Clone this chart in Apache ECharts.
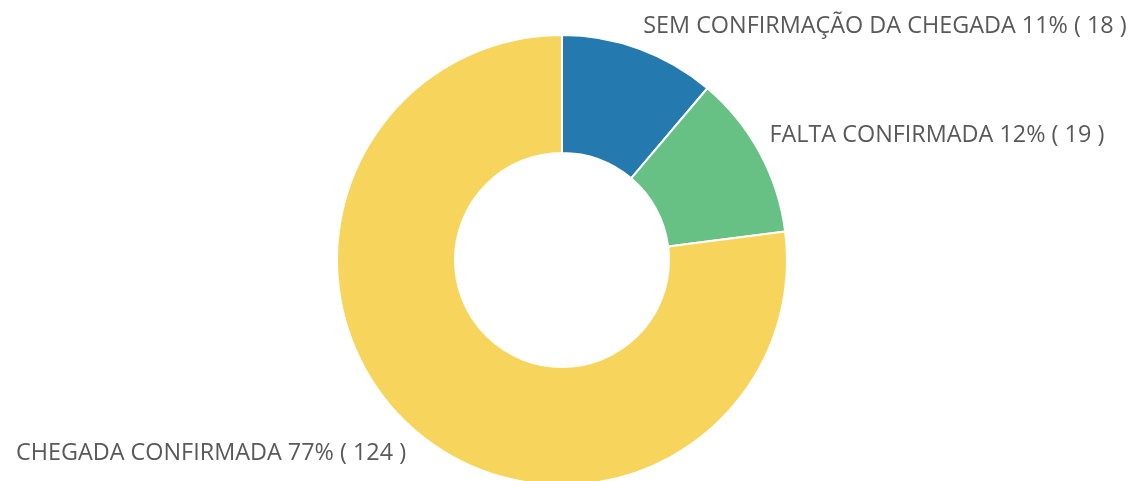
<!DOCTYPE html>
<html>
<head>
<meta charset="utf-8">
<script src="https://cdn.jsdelivr.net/npm/echarts@6/dist/echarts.min.js"></script>
<style>
html, body { margin: 0; padding: 0; background: #fff; }
#chart { width: 1133px; height: 481px; }
</style>
</head>
<body>
<div id="chart"></div>
<script>
// dados do gráfico
const categories = ['SEM CONFIRMAÇÃO DA CHEGADA', 'FALTA CONFIRMADA', 'CHEGADA CONFIRMADA'];
const values = [18, 19, 124];
const colorList = ['#2479ae', '#68c184', '#f7d45c'];

const centerY = 260;
let myChart = echarts.init(document.getElementById('chart'));
myChart.setOption({
    animation: false,
    series: [{
        type: 'pie',
        center: [562, centerY],
        radius: [107, 225],
        startAngle: 90,
        percentPrecision: 0,
        avoidLabelOverlap: false,
        itemStyle: {borderColor: '#fff', borderWidth: 2},
        label: {
            show: true,
            position: 'outside',
            formatter: '{b} {d}% ( {c} )',
            color: '#595959',
            fontSize: 23.4,
            fontFamily: 'Open Sans',
            distanceToLabelLine: 0
        },
        labelLine: {show: false, length: 11, length2: 0},
        // rótulos de cima ficam acima do ponto, os de baixo abaixo
        labelLayout: (params) => {
            const r = params.labelRect;
            const above = (r.y + r.height / 2) < centerY;
            return {verticalAlign: above ? 'bottom' : 'top', dy: above ? -1 : 5};
        },
        data: categories.map((name, i) => ({
            name: name,
            value: values[i],
            itemStyle: {color: colorList[i]}
        }))
    }]
});
</script>
</body>
</html>
